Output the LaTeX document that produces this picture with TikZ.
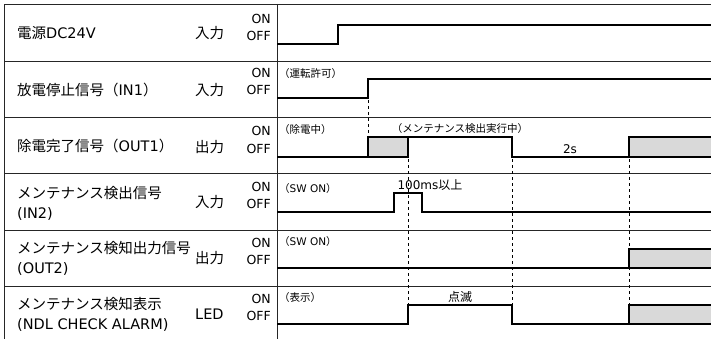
\documentclass[tikz,border=0pt]{standalone}
\usepackage{fontspec}
\setmainfont{DejaVu Sans}
\newfontfamily\jp{Noto Sans CJK JP}

\begin{document}
\begin{tikzpicture}[x=1pt,y=-1pt,
  rowline/.style={line width=0.8pt,black!85},
  sig/.style={line width=1.4pt,line join=miter},
  busy/.style={fill=gray!30},
  guide/.style={line width=0.8pt,dash pattern=on 3pt off 3pt},
  lbl/.style={anchor=west,inner sep=0pt,align=left,font=\fontsize{14.5}{20}\selectfont},
  io/.style={anchor=west,inner sep=0pt,font=\fontsize{14.5}{17}\selectfont},
  lvl/.style={anchor=east,inner sep=0pt,font=\fontsize{12.5}{14}\selectfont},
  note/.style={inner sep=0pt,font=\fontsize{10.5}{12}\selectfont},
  hint/.style={inner sep=0pt,font=\fontsize{12}{14}\selectfont}]
  \useasboundingbox (0,0) rectangle (711,339);

  % frame and rows
  \draw[rowline] (4,339) -- (4,4) -- (711,4);
  \draw[rowline] (277,4) -- (277,339);
  \foreach \y in {61,117,173,230,286}
    \draw[rowline] (4,\y) -- (711,\y);

  % row labels
  \node[lbl] (pwr)  at (17,33)  {{\jp 電源}DC24V};
  \node[lbl] (in1)  at (17,90)  {{\jp 放電停止信号（}IN1{\jp ）}};
  \node[lbl] (out1) at (17,146) {{\jp 除電完了信号（}OUT1{\jp ）}};
  \node[lbl] (in2)  at (17,203) {{\jp メンテナンス検出信号}\\(IN2)};
  \node[lbl] (out2) at (17,258) {{\jp メンテナンス検知出力信号}\\(OUT2)};
  \node[lbl] (led)  at (17,314) {{\jp メンテナンス検知表示}\\(NDL CHECK ALARM)};

  \node[io] (pwrio)  at (195,33)  {\jp 入力};
  \node[io] (in1io)  at (195,90)  {\jp 入力};
  \node[io] (out1io) at (195,147) {\jp 出力};
  \node[io] (in2io)  at (195,202) {\jp 入力};
  \node[io] (out2io) at (195,258) {\jp 出力};
  \node[io] (ledio)  at (195,314) {LED};

  % ON / OFF levels
  \foreach \on/\off [count=\i] in {25/44,79/98,137/157,193/212,249/268,305/324} {
    \node[lvl] (on\i)  at (271,\on-6.5)  {ON};
    \node[lvl] (off\i) at (271,\off-8.5) {OFF};
  }

  % guides
  \draw[guide] (368,100) -- (368,137);
  \draw[guide] (408,159) -- (408,305);
  \draw[guide] (512,159) -- (512,305);
  \draw[guide] (629,159) -- (629,305);

  % signals
  \draw[sig] (277,44) -- (338,44) -- (338,25) -- (711,25);
  \draw[sig] (277,98) -- (368,98) -- (368,79) -- (711,79);

  \fill[busy] (368,157) rectangle (408,137);
  \fill[busy] (629,157) rectangle (711,137);
  \draw[sig] (277,157) -- (368,157) -- (368,137) -- (408,137) -- (512,137)
    -- (512,157) -- (629,157) -- (629,137) -- (711,137);
  \draw[sig] (408,137) -- (408,157) -- (368,157);
  \draw[sig] (629,157) -- (711,157);

  \draw[sig] (277,212) -- (394,212) -- (394,193) -- (422,193) -- (422,212) -- (711,212);

  \fill[busy] (629,268) rectangle (711,249);
  \draw[sig] (277,268) -- (711,268);
  \draw[sig] (629,268) -- (629,249) -- (711,249);

  \fill[busy] (629,324) rectangle (711,305);
  \draw[sig] (277,324) -- (408,324) -- (408,305) -- (512,305) -- (512,324) -- (711,324);
  \draw[sig] (629,324) -- (629,305) -- (711,305);

  % notes
  \node[note,anchor=west] (run)   at (279,74)  {\jp （運転許可）};
  \node[note,anchor=west] (disch) at (279,130) {\jp （除電中）};
  \node[note] (maint) at (460,129) {\jp （メンテナンス検出実行中）};
  \node[hint] (delay) at (570,149) {2s};
  \node[note,anchor=west] (sw1) at (279,189) {{\jp （}SW ON{\jp ）}};
  \node[hint] (minw)  at (430,185) {100ms{\jp 以上}};
  \node[note,anchor=west] (sw2) at (279,242) {{\jp （}SW ON{\jp ）}};
  \node[note,anchor=west] (disp) at (279,298) {\jp （表示）};
  \node[hint] (blink) at (460,297) {\jp 点滅};
\end{tikzpicture}
\end{document}
